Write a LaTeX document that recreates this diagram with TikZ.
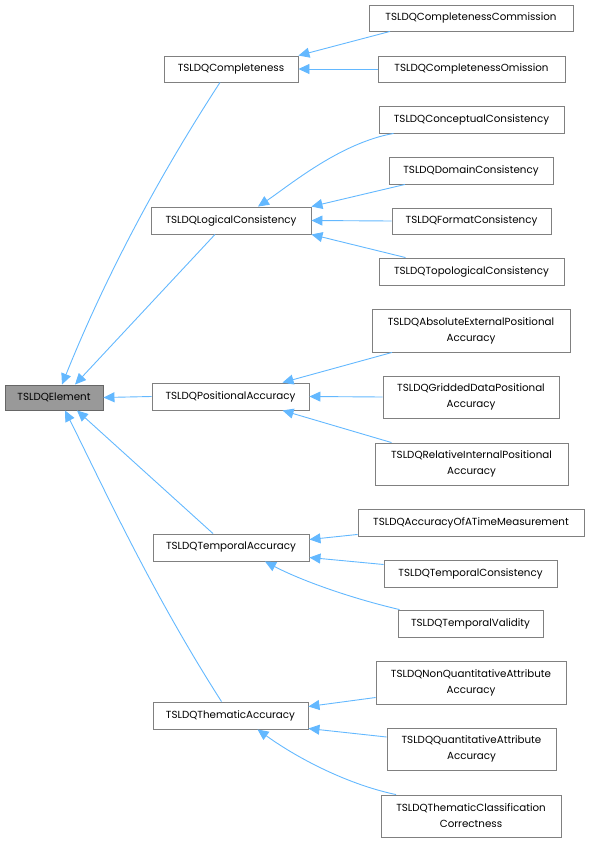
\documentclass[tikz,border=0pt]{standalone}
\usepackage{fontspec}
\setmainfont{Poppins}
\usetikzlibrary{arrows.meta}
\definecolor{edgeblue}{HTML}{63B8FF}
\definecolor{boxline}{HTML}{808080}
\definecolor{rootfill}{HTML}{999999}
\definecolor{rootline}{HTML}{666666}
\tikzset{
  cls/.style={draw=boxline, line width=0.9pt, fill=white, inner sep=0pt, align=center,
    font=\fontsize{10.3}{16}\selectfont, text=black},
  root/.style={cls, fill=rootfill, draw=rootline},
  inh/.style={{Triangle[length=11pt,width=10pt]}-, draw=edgeblue, line width=0.9pt, color=edgeblue},
}
\begin{document}
\begin{tikzpicture}[x=1pt,y=-1pt]
\useasboundingbox (0,0) rectangle (590,843);
% nodes
\node[root, minimum width=98, minimum height=25] (el) at (54,397.5) {TSLDQElement};
\node[cls, minimum width=134, minimum height=26] (comp) at (231,69) {TSLDQCompleteness};
\node[cls, minimum width=160, minimum height=27] (log) at (231,220.5) {TSLDQLogicalConsistency};
\node[cls, minimum width=157, minimum height=27] (pos) at (230.5,396.5) {TSLDQPositionalAccuracy};
\node[cls, minimum width=156, minimum height=27] (temp) at (231,547.5) {TSLDQTemporalAccuracy};
\node[cls, minimum width=155, minimum height=27] (them) at (230.5,715.5) {TSLDQThematicAccuracy};

\node[cls, minimum width=204, minimum height=26] (comm) at (471,18) {TSLDQCompletenessCommission};
\node[cls, minimum width=187, minimum height=26] (omis) at (471.5,69) {TSLDQCompletenessOmission};
\node[cls, minimum width=185, minimum height=27] (conc) at (471.5,119.5) {TSLDQConceptualConsistency};
\node[cls, minimum width=164, minimum height=27] (dom) at (471,170.5) {TSLDQDomainConsistency};
\node[cls, minimum width=159, minimum height=26] (form) at (471.5,221) {TSLDQFormatConsistency};
\node[cls, minimum width=185, minimum height=27] (topo) at (471.5,271.5) {TSLDQTopologicalConsistency};

\node[cls, minimum width=198, minimum height=43] (abs) at (471,330.5) {TSLDQAbsoluteExternalPositional\\Accuracy};
\node[cls, minimum width=176, minimum height=42] (grid) at (471,397) {TSLDQGriddedDataPositional\\Accuracy};
\node[cls, minimum width=193, minimum height=42] (rel) at (471.5,464) {TSLDQRelativeInternalPositional\\Accuracy};

\node[cls, minimum width=226, minimum height=27] (atm) at (471,522.5) {TSLDQAccuracyOfATimeMeasurement};
\node[cls, minimum width=173, minimum height=27] (tcons) at (470.5,573.5) {TSLDQTemporalConsistency};
\node[cls, minimum width=145, minimum height=27] (tval) at (470.5,623.5) {TSLDQTemporalValidity};

\node[cls, minimum width=190, minimum height=43] (nq) at (471,682.5) {TSLDQNonQuantitativeAttribute\\Accuracy};
\node[cls, minimum width=169, minimum height=42] (qa) at (471.5,749) {TSLDQQuantitativeAttribute\\Accuracy};
\node[cls, minimum width=180, minimum height=42] (tcc) at (471,816) {TSLDQThematicClassification\\Correctness};

% edges to root
\draw[inh] ([xshift=8]el.north) .. controls (100,290) and (150,190) .. ([xshift=-11]comp.south);
\draw[inh] ([xshift=21]el.north) -- ([xshift=-16]log.south);
\draw[inh] (el.east) -- (pos.west);
\draw[inh] ([xshift=23]el.south) -- ([xshift=-18]temp.north);
\draw[inh] ([xshift=11]el.south) .. controls (100,480) and (150,590) .. ([xshift=-9]them.north);

% completeness
\draw[inh] (comp.north east) -- ([xshift=-81]comm.south);
\draw[inh] (comp.east) -- (omis.west);
% logical
\draw[inh] ([xshift=27]log.north) .. controls (290,185) and (340,143) .. ([xshift=-78]conc.south);
\draw[inh] (log.north east) -- ([xshift=-66]dom.south);
\draw[inh] (log.east) -- (form.west);
\draw[inh] (log.south east) -- ([xshift=-66]topo.north);
% positional
\draw[inh] ([xshift=52]pos.north) -- ([xshift=-79]abs.south);
\draw[inh] (pos.east) -- (grid.west);
\draw[inh] ([xshift=52]pos.south) -- ([xshift=-80]rel.north);
% temporal
\draw[inh] ([yshift=8]temp.east) -- ([yshift=2]atm.south west);
\draw[inh] ([yshift=-10]temp.east) -- ([yshift=9]tcons.west);
\draw[inh] ([xshift=34]temp.south) .. controls (300,580) and (350,598) .. ([xshift=-71]tval.north);
% thematic
\draw[inh] ([yshift=9]them.east) -- ([yshift=-15]nq.west);
\draw[inh] ([yshift=-13]them.east) -- ([yshift=12]qa.west);
\draw[inh] ([xshift=27]them.south) .. controls (300,760) and (350,785) .. ([xshift=-75]tcc.north);
\end{tikzpicture}
\end{document}
